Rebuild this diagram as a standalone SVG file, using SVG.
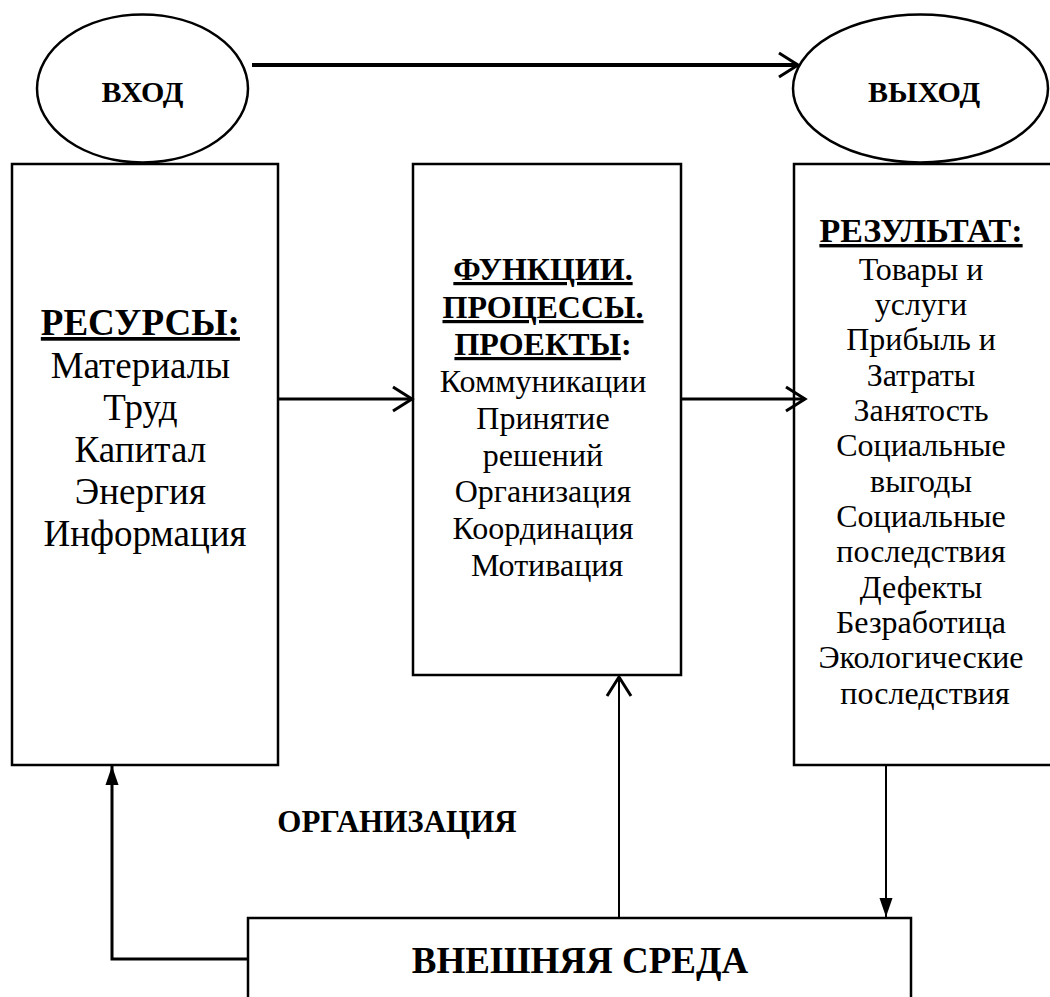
<svg xmlns="http://www.w3.org/2000/svg" width="1050" height="997" viewBox="0 0 1050 997">
<style>
.sh{fill:none;stroke:#000;stroke-width:2.5}
.ln{fill:none;stroke:#000;stroke-width:2.5}
.t{font-family:"Liberation Serif","Times New Roman",serif;fill:#000;text-anchor:middle}
.b{font-weight:bold}
.u{text-decoration:underline}
</style>
<defs>
<marker id="open" markerWidth="24" markerHeight="28" refX="20" refY="14" orient="auto" markerUnits="userSpaceOnUse"><path d="M1,2 L20,14 L1,26" fill="none" stroke="#000" stroke-width="3"/></marker>
<marker id="tri" markerWidth="20" markerHeight="14" refX="19" refY="7" orient="auto" markerUnits="userSpaceOnUse"><path d="M0,0.5 L19,7 L0,13.5 Z" fill="#000"/></marker>
</defs>
<rect width="1050" height="997" fill="#fff"/>
<g id="connectors">
<line class="ln" x1="252" y1="65" x2="798" y2="65" marker-end="url(#open)" style="stroke-width:4"/>
<line class="ln" x1="279" y1="399" x2="412" y2="399" marker-end="url(#open)" style="stroke-width:3"/>
<line class="ln" x1="681" y1="399" x2="805" y2="399" marker-end="url(#open)" style="stroke-width:3"/>
<line class="ln" x1="886" y1="765" x2="886" y2="917" marker-end="url(#tri)" style="stroke-width:2"/>
<line class="ln" x1="619" y1="917" x2="619" y2="677" marker-end="url(#open)" style="stroke-width:2"/>
<polyline class="ln" points="248,959 112,959 112,766" marker-end="url(#tri)" style="stroke-width:3"/>
</g>
<g id="vhod">
<ellipse class="sh" cx="142.5" cy="88.5" rx="105.5" ry="74"/>
<text class="t b" x="142.5" y="102" font-size="30">ВХОД</text>
</g>
<g id="vyhod">
<ellipse class="sh" cx="920.5" cy="88.5" rx="127.5" ry="74"/>
<text class="t b" x="924" y="102" font-size="30">ВЫХОД</text>
</g>
<g id="resursy">
<rect class="sh" x="12" y="164" width="266" height="601"/>
<text class="t" x="145" font-size="37">
<tspan class="b u" x="145" y="335">РЕСУРСЫ:</tspan>
<tspan x="145" y="378">Материалы</tspan>
<tspan x="145" y="420">Труд</tspan>
<tspan x="145" y="462">Капитал</tspan>
<tspan x="145" y="504">Энергия</tspan>
<tspan x="145" y="546">Информация</tspan>
</text>
</g>
<g id="funkcii">
<rect class="sh" x="413" y="164" width="268" height="511"/>
<text class="t" x="547" font-size="32">
<tspan class="b u" x="547" y="280">ФУНКЦИИ.</tspan>
<tspan class="b u" x="547" y="318">ПРОЦЕССЫ.</tspan>
<tspan class="b" x="547" y="355"><tspan class="u">ПРОЕКТЫ</tspan>:</tspan>
<tspan x="547" y="392">Коммуникации</tspan>
<tspan x="547" y="429">Принятие</tspan>
<tspan x="547" y="466">решений</tspan>
<tspan x="547" y="502">Организация</tspan>
<tspan x="547" y="539">Координация</tspan>
<tspan x="547" y="576">Мотивация</tspan>
</text>
</g>
<g id="rezultat">
<rect class="sh" x="794" y="164" width="270" height="601"/>
<text class="t" x="925" font-size="32">
<tspan class="b u" x="925" y="242" font-size="34">РЕЗУЛЬТАТ:</tspan>
<tspan x="925" y="280">Товары и</tspan>
<tspan x="925" y="315">услуги</tspan>
<tspan x="925" y="350">Прибыль и</tspan>
<tspan x="925" y="386">Затраты</tspan>
<tspan x="925" y="421">Занятость</tspan>
<tspan x="925" y="456">Социальные</tspan>
<tspan x="925" y="492">выгоды</tspan>
<tspan x="925" y="527">Социальные</tspan>
<tspan x="925" y="562">последствия</tspan>
<tspan x="925" y="598">Дефекты</tspan>
<tspan x="925" y="633">Безработица</tspan>
<tspan x="925" y="668">Экологические</tspan>
<tspan x="925" y="704">последствия</tspan>
</text>
</g>
<g id="organizaciya">
<text class="t b" x="397" y="832" font-size="31">ОРГАНИЗАЦИЯ</text>
</g>
<g id="sreda">
<rect class="sh" x="248" y="918" width="663" height="100"/>
<text class="t b" x="580" y="973" font-size="37">ВНЕШНЯЯ СРЕДА</text>
</g>
</svg>
